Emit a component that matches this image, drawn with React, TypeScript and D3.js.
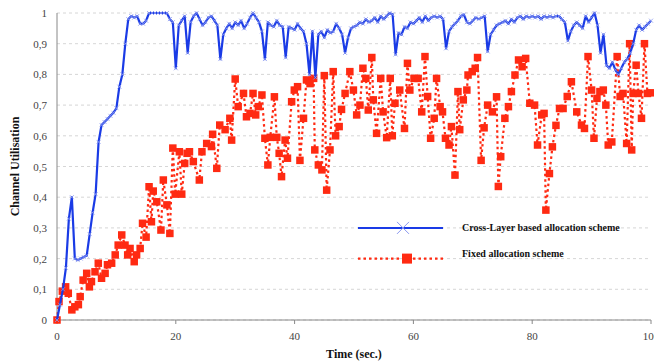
import React from 'react';
import * as d3 from 'd3';

// Cross-Layer series, one value every 0.5 s from 0 to 100
const blueValues = [
  0, 0.05, 0.1, 0.17, 0.33, 0.4, 0.2, 0.195, 0.2, 0.205,
  0.21, 0.28, 0.35, 0.41, 0.58, 0.635, 0.645, 0.655, 0.665, 0.675,
  0.69, 0.76, 0.8, 0.9, 0.98, 0.99, 0.985, 0.99, 0.965, 0.965,
  0.975, 1.0, 1.0, 1.0, 1.0, 1.0, 1.0, 1.0, 0.98, 0.97,
  0.82, 0.96, 0.975, 0.99, 0.87, 0.97, 0.99, 1.0, 0.98, 0.96,
  0.97, 0.985, 0.99, 0.975, 0.96, 0.85, 0.93, 0.95, 0.965, 0.95,
  0.97, 0.96, 0.975, 0.95, 0.965, 0.985, 1.0, 0.985, 0.97, 0.94,
  0.85, 0.97, 0.96, 0.955, 0.975, 0.96, 0.955, 0.855, 0.955, 0.95,
  0.945, 0.965, 0.95, 0.94, 0.9, 0.8, 0.94, 0.79, 0.93, 0.94,
  0.92, 0.945, 0.935, 0.94, 0.965, 0.95, 0.93, 0.87, 0.92, 0.95,
  0.955, 0.96, 0.97, 0.965, 0.98, 0.97, 0.975, 0.985, 0.97, 0.99,
  0.98, 0.99, 1.0, 0.995, 0.865, 0.935, 0.93, 0.955, 0.95, 0.97,
  0.965, 0.975, 0.985, 0.97, 0.99, 0.975, 0.985, 0.99, 0.985, 0.99,
  0.98, 0.885, 0.94, 0.955, 0.965, 0.975, 0.99, 0.995, 0.97, 0.965,
  0.975, 0.985, 0.98, 0.985, 0.99, 0.875, 0.93, 0.945, 0.96, 0.965,
  0.97, 0.975, 0.965, 0.98, 0.97, 0.985, 0.99, 0.98, 0.99, 0.985,
  0.99, 0.985, 0.99, 0.98, 0.99, 0.985, 0.99, 0.985, 0.99, 0.99,
  0.98, 0.97, 0.91, 0.94, 0.96, 0.97, 0.96, 0.95, 0.99, 0.97,
  0.985, 1.0, 0.96, 0.87, 0.93, 0.83, 0.82, 0.84, 0.815, 0.8,
  0.82, 0.84, 0.85, 0.87, 0.9, 0.945, 0.96, 0.945, 0.955, 0.965,
  0.975,
];
const blueTimes = blueValues.map((_, i) => i * 0.5);

// Fixed allocation series (time, value)
const redTimes = [
  0, 0.34, 0.9, 1.45, 1.9, 2.5, 3.0, 3.6, 3.9, 4.4,
  5.0, 5.45, 5.8, 6.4, 6.95, 7.5, 8.1, 8.5, 9.2, 9.8,
  10.3, 10.9, 11.45, 11.9, 12.3, 13.0, 13.4, 14.0, 14.4, 15.0,
  15.5, 15.9, 16.2, 16.8, 17.5, 17.9, 18.5, 19.0, 19.5, 19.9,
  20.6, 21.0, 21.5, 21.9, 22.3, 22.95, 23.96, 24.4, 25.2, 26.0,
  26.2, 26.9, 27.4, 28.3, 29.1, 29.4, 30.0, 30.5, 31.4, 31.9,
  32.5, 33.0, 33.45, 33.9, 34.5, 35.0, 35.5, 35.9, 36.6, 37.0,
  37.4, 37.8, 38.4, 38.8, 39.5, 39.95, 40.5, 40.9, 41.5, 42.0,
  42.6, 43.2, 43.4, 44.0, 44.6, 45.0, 45.4, 45.96, 46.5, 46.9,
  47.5, 47.9, 48.5, 49.3, 49.9, 50.45, 51.0, 51.5, 52.0, 52.4,
  53.0, 53.25, 53.8, 54.5, 54.9, 55.5, 56.1, 56.45, 56.9, 57.7,
  58.5, 59.0, 59.4, 60.1, 60.8, 61.4, 61.95, 62.4, 62.9, 63.5,
  63.9, 64.5, 64.9, 65.4, 66.0, 66.4, 67.0, 67.5, 67.8, 68.4,
  69.0, 69.2, 69.9, 70.4, 70.8, 71.4, 71.9, 72.5, 73.3, 74.0,
  74.3, 74.7, 75.4, 76.0, 76.5, 77.1, 77.7, 78.3, 78.9, 79.6,
  80.4, 80.9, 81.6, 82.0, 82.3, 82.9, 83.4, 84.0, 84.6, 85.2,
  85.9, 86.6, 87.5, 88.3, 88.8, 89.4, 90.0, 90.4, 90.9, 91.4,
  91.97, 92.4, 92.8, 93.4, 94.3, 94.8, 95.3, 95.9, 96.4, 96.75,
  97.0, 97.5, 97.9, 98.4, 98.9, 99.4, 100,
];
const redValues = [
  0, 0.06, 0.094, 0.108, 0.087, 0.033, 0.043, 0.05, 0.076, 0.13,
  0.152, 0.108, 0.125, 0.157, 0.185, 0.136, 0.152, 0.18, 0.185, 0.212,
  0.244, 0.277, 0.244, 0.212, 0.233, 0.19, 0.212, 0.233, 0.315, 0.27,
  0.434, 0.32, 0.42, 0.385, 0.293, 0.456, 0.375, 0.282, 0.56, 0.41,
  0.548, 0.41, 0.51, 0.543, 0.548, 0.516, 0.456, 0.548, 0.575, 0.565,
  0.605, 0.494, 0.635, 0.62, 0.657, 0.586, 0.785, 0.695, 0.738, 0.662,
  0.673, 0.738, 0.668, 0.695, 0.733, 0.592, 0.505, 0.595, 0.727, 0.595,
  0.543, 0.467, 0.586, 0.527, 0.711, 0.749, 0.76, 0.52, 0.657, 0.782,
  0.77, 0.787, 0.554, 0.505, 0.489, 0.796, 0.423, 0.554, 0.809, 0.6,
  0.63, 0.686, 0.738, 0.809, 0.749, 0.668, 0.7, 0.82, 0.787, 0.684,
  0.855, 0.717, 0.608, 0.787, 0.678, 0.594, 0.787, 0.6, 0.706, 0.749,
  0.624, 0.836, 0.749, 0.787, 0.787, 0.678, 0.858, 0.728, 0.592, 0.657,
  0.787, 0.695, 0.678, 0.592, 0.57, 0.63, 0.472, 0.744, 0.62, 0.717,
  0.749, 0.798, 0.809, 0.82, 0.855, 0.52, 0.626, 0.7, 0.678, 0.727,
  0.435, 0.532, 0.657, 0.695, 0.744, 0.798, 0.847, 0.825, 0.852, 0.706,
  0.7, 0.57, 0.668, 0.673, 0.358, 0.477, 0.564, 0.634, 0.689, 0.689,
  0.728, 0.776, 0.678, 0.635, 0.624, 0.858, 0.749, 0.592, 0.722, 0.744,
  0.749, 0.7, 0.57, 0.58, 0.858, 0.728, 0.738, 0.575, 0.9, 0.554,
  0.738, 0.83, 0.738, 0.657, 0.9, 0.738, 0.74,
];

const yTicks = [0, 0.1, 0.2, 0.3, 0.4, 0.5, 0.6, 0.7, 0.8, 0.9, 1];
const xTicks = [0, 20, 40, 60, 80, 100];
const seriesNames = ['Cross-Layer based allocation scheme', 'Fixed allocation scheme'];

const width = 654;
const height = 363;
const serif = '"Liberation Serif", "Times New Roman", serif';
const blue = '#1a3be6';
const red = '#ff2a12';

const yFormat = (v: number) => (v === 0 || v === 1 ? String(v) : v.toFixed(1).replace('.', ','));

export default function App() {
  const x = d3.scaleLinear().domain([0, 100]).range([57, 651]);
  const y = d3.scaleLinear().domain([0, 1]).range([320, 13]);

  const blueData = blueTimes.map((t, i) => [t, blueValues[i]] as [number, number]);
  const redData = redTimes.map((t, i) => [t, redValues[i]] as [number, number]);

  const line = d3.line<[number, number]>()
    .x(d => x(d[0]))
    .y(d => y(d[1]));

  const cross = (cx: number, cy: number, r: number, key: any, sw = 0.8) => (
    <path
      key={key}
      d={`M${cx - r},${cy - r}L${cx + r},${cy + r}M${cx - r},${cy + r}L${cx + r},${cy - r}`}
      stroke="#8a98f0"
      strokeWidth={sw}
      fill="none"
    />
  );

  return (
    <svg width={width} height={height} style={{ position: 'absolute', left: 0, top: 0, background: '#fff' }}>
      {/* gridlines */}
      {yTicks.map(t => (
        <line key={t} x1={x(0)} x2={x(100)} y1={y(t)} y2={y(t)}
          stroke="#cccccc" strokeWidth={0.8} strokeDasharray="3,3" />
      ))}

      {/* axes */}
      <line x1={x(0)} x2={x(0)} y1={y(1)} y2={y(0)} stroke="#888" strokeWidth={1} />
      <line x1={x(0)} x2={x(100)} y1={y(0)} y2={y(0)} stroke="#888" strokeWidth={1} />
      {xTicks.map(t => (
        <g key={t}>
          <line x1={x(t)} x2={x(t)} y1={y(0)} y2={y(0) + 4} stroke="#888" />
          <text x={x(t)} y={340} textAnchor="middle" fontFamily={serif} fontSize={11} fill="#444">{t}</text>
        </g>
      ))}
      {yTicks.map(t => (
        <text key={t} x={47} y={y(t) + 4} textAnchor="end" fontFamily={serif} fontSize={11} fill="#444">{yFormat(t)}</text>
      ))}

      {/* axis titles */}
      <text x={(x(0) + x(100)) / 2} y={358} textAnchor="middle" fontFamily={serif} fontSize={12} fontWeight="bold" fill="#111">Time (sec.)</text>
      <text transform={`translate(19,${(y(0) + y(1)) / 2}) rotate(-90)`} textAnchor="middle" fontFamily={serif} fontSize={12} fontWeight="bold" fill="#111">Channel Utilisation</text>

      {/* fixed allocation */}
      <path d={line(redData) || ''} fill="none" stroke={red} strokeWidth={2.2} strokeDasharray="2.5,3" />
      {redData.map((d, i) => (
        <rect key={i} x={x(d[0]) - 3.75} y={y(d[1]) - 3.75} width={7.5} height={7.5} fill={red} />
      ))}

      {/* cross-layer */}
      <path d={line(blueData) || ''} fill="none" stroke={blue} strokeWidth={2.2} strokeLinejoin="round" />
      {blueData.map((d, i) => cross(x(d[0]), y(d[1]), 2, i))}

      {/* legend */}
      <line x1={358} x2={443} y1={y(0.3)} y2={y(0.3)} stroke={blue} strokeWidth={2} />
      {cross(403, y(0.3), 6, 'lc', 1)}
      <text x={462} y={y(0.3) + 3.5} fontFamily={serif} fontSize={10} fontWeight="bold" fill="#111">{seriesNames[0]}</text>
      <line x1={358} x2={443} y1={y(0.2)} y2={y(0.2)} stroke={red} strokeWidth={2.2} strokeDasharray="2.5,3" />
      <rect x={402} y={y(0.2) - 5} width={10} height={10} fill={red} />
      <text x={462} y={y(0.2) - 1.5} fontFamily={serif} fontSize={10} fontWeight="bold" fill="#111">{seriesNames[1]}</text>
    </svg>
  );
}
